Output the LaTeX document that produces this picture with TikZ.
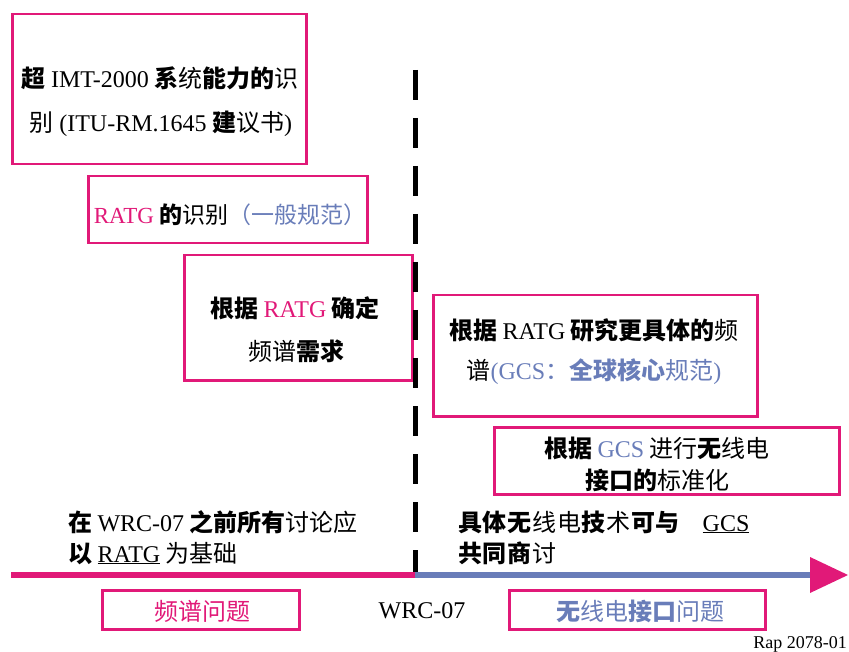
\documentclass[tikz,border=0pt]{standalone}
\usepackage{fontspec}
\setmainfont{Noto Sans CJK SC}
\newfontfamily\tnr{Liberation Serif}
\newcommand\rt[1]{{\tnr #1}}
\newcommand\bb[1]{\textbf{#1}}
\definecolor{pk}{RGB}{225,25,120}
\definecolor{bl}{RGB}{105,125,185}
\begin{document}
\begin{tikzpicture}[x=1pt,y=-1pt,
  box/.style={draw=pk, line width=2.5pt, inner sep=0, anchor=north west},
  txt/.style={inner sep=0, anchor=base, font=\fontsize{24}{28}\selectfont},
  ltxt/.style={inner sep=0, anchor=base west, font=\fontsize{24}{28}\selectfont}]
\useasboundingbox (0,0) rectangle (849,652);
% boxes
\node[box, minimum width=294, minimum height=150] (b1) at (11,13) {};
\node[box, minimum width=279, minimum height=67] (b2) at (87,175) {};
\node[box, minimum width=228, minimum height=125] (b3) at (183,254) {};
\node[box, minimum width=324, minimum height=121] (b4) at (432,294) {};
\node[box, minimum width=345, minimum height=67] (b5) at (493,426) {};
\node[box, minimum width=197, minimum height=39] (b6) at (101,589) {};
\node[box, minimum width=256, minimum height=39] (b7) at (508,589) {};
% texts
\node[txt] (t1a) at (160,88) {\bb{超} \rt{IMT-2000} \bb{系}统\bb{能力的}识};
\node[txt] (t1b) at (161,132) {别 \rt{(ITU-RM.1645} \bb{建}议书\rt{)}};
\node[txt, font=\fontsize{23}{27}\selectfont] (t2) at (230,224) {\textcolor{pk}{\rt{RATG}} \bb{的}识别\textcolor{bl}{（一般规范）}};
\node[txt] (t3a) at (295,318) {\bb{根据} \textcolor{pk}{\rt{RATG}} \bb{确定}};
\node[txt] (t3b) at (296,360) {频谱\bb{需求}};
\node[txt] (t4a) at (594,340) {\bb{根据} \rt{RATG} \bb{研究更具体的}频};
\node[txt] (t4b) at (594,380) {谱\textcolor{bl}{\rt{(GCS}：\bb{全球核心}规范\rt{)}}};
\node[txt] (t5a) at (657,457) {\bb{根据} \textcolor{bl}{\rt{GCS}} 进行\bb{无}线电};
\node[txt] (t5b) at (657,489) {\bb{接口的}标准化};
\node[ltxt] (t6a) at (68,531) {\bb{在} \rt{WRC-07} \bb{之前所有}讨论应};
\node[ltxt] (t6b) at (68,562) {\bb{以} \underline{\rt{RATG}} 为基础};
\node[ltxt] (t7a) at (458,531) {\addfontfeature{LetterSpace=3}\bb{具体无}线电\bb{技}术\bb{可与}\hspace{22pt}\underline{\rt{GCS}}};
\node[ltxt] (t7b) at (458,562) {\addfontfeature{LetterSpace=3}\bb{共同商}讨};
\node[txt] (t8) at (202,620) {\textcolor{pk}{频谱问题}};
\node[txt] (t9) at (422,618) {\rt{WRC-07}};
\node[txt] (t10) at (640,620) {\textcolor{bl}{\bb{无}线电\bb{接口}问题}};
\node[inner sep=0, anchor=base east, font=\fontsize{18}{20}\selectfont] (t11) at (847,648) {\rt{Rap 2078-01}};
% dashed divider
\coordinate (D0) at (415,70);
\coordinate (D1) at (415,572);
\draw[line width=5pt, dash pattern=on 30pt off 18pt] (D0) -- (D1);
% timeline
\coordinate (L0) at (11,575);
\coordinate (Lm) at (415,575);
\coordinate (Le) at (812,575);
\draw[pk, line width=6pt] (L0) -- (Lm);
\draw[bl, line width=6pt] (Lm) -- (Le);
\fill[pk] (810,557) -- (848,575) -- (810,593) -- cycle;
\end{tikzpicture}
\end{document}
